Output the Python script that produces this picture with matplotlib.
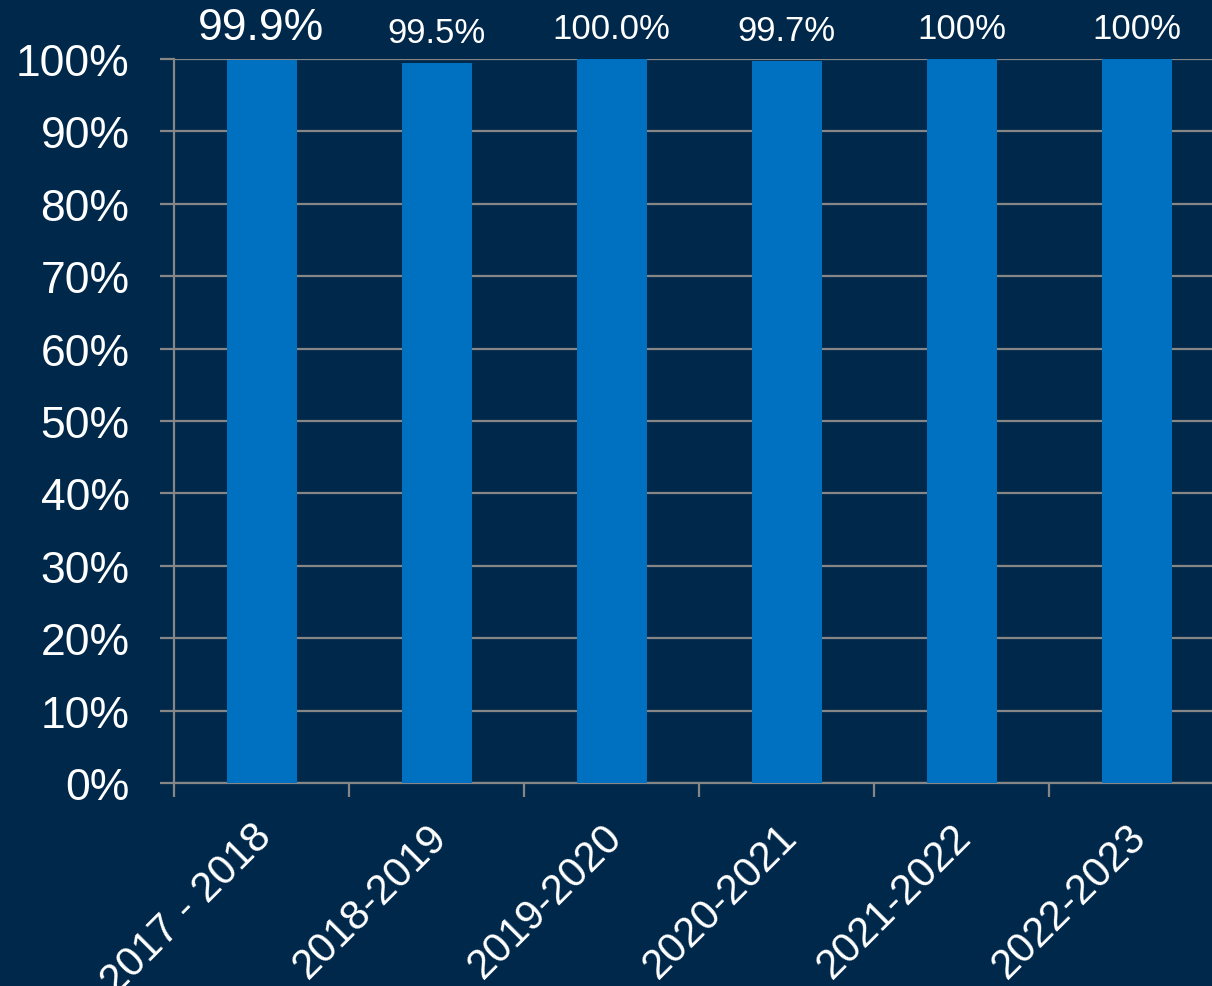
import numpy as np
import matplotlib
matplotlib.use('Agg')
import matplotlib.pyplot as plt
import matplotlib.transforms as mtransforms
from matplotlib.ticker import FixedLocator

years = ['2017 - 2018', '2018-2019', '2019-2020', '2020-2021', '2021-2022', '2022-2023']
rates = [99.9, 99.5, 100.0, 99.7, 100, 100]
labels = ['99.9%', '99.5%', '100.0%', '99.7%', '100%', '100%']
label_sizes = [32, 25, 25, 25, 25, 25]
yticks = np.arange(0, 101, 10)

bg = '#00284A'
bar_color = '#0070C0'
grid_color = '#868686'

plt.rcParams['font.family'] = ['Liberation Sans', 'DejaVu Sans']

fig = plt.figure(figsize=(12.12, 9.87), dpi=100, facecolor=bg)
# plot area runs past the right edge of the picture, as in the original
ax = fig.add_axes([174 / 1212, 203 / 987, 1050 / 1212, 724 / 987])
ax.set_facecolor(bg)

x = np.arange(len(years))
ax.bar(x, rates, width=0.4, color=bar_color, zorder=3)

for xi, r, lab, fs in zip(x, rates, labels, label_sizes):
    ax.annotate(lab, (xi, r), xytext=(0, 15), textcoords='offset points',
                ha='center', va='baseline', color='white', fontsize=fs)

ax.set_xlim(-0.5, len(years) - 0.5)
ax.set_ylim(0, 100)
ax.set_yticks(yticks)
ax.set_yticklabels([f'{v}%' for v in yticks])
ax.yaxis.grid(True, color=grid_color, linewidth=1.6, zorder=0)

ax.set_xticks(x)
ax.set_xticklabels(years, rotation=45, ha='right', rotation_mode='anchor')
ax.xaxis.set_minor_locator(FixedLocator(np.arange(len(years)) - 0.5))
ax.tick_params(axis='x', which='major', length=0, pad=24, labelsize=30, labelcolor='white')
ax.tick_params(axis='x', which='minor', length=10, width=1.6, color=grid_color)
ax.tick_params(axis='y', length=10, width=1.6, color=grid_color, pad=22,
               labelsize=32, labelcolor='white')

shift = mtransforms.ScaledTranslation(-10 / 100, 0, fig.dpi_scale_trans)
for t in ax.get_xticklabels():
    t.set_transform(t.get_transform() + shift)

for side in ['top', 'right']:
    ax.spines[side].set_visible(False)
for side in ['left', 'bottom']:
    ax.spines[side].set_color(grid_color)
    ax.spines[side].set_linewidth(1.6)

fig.savefig('out.png', facecolor=bg)
